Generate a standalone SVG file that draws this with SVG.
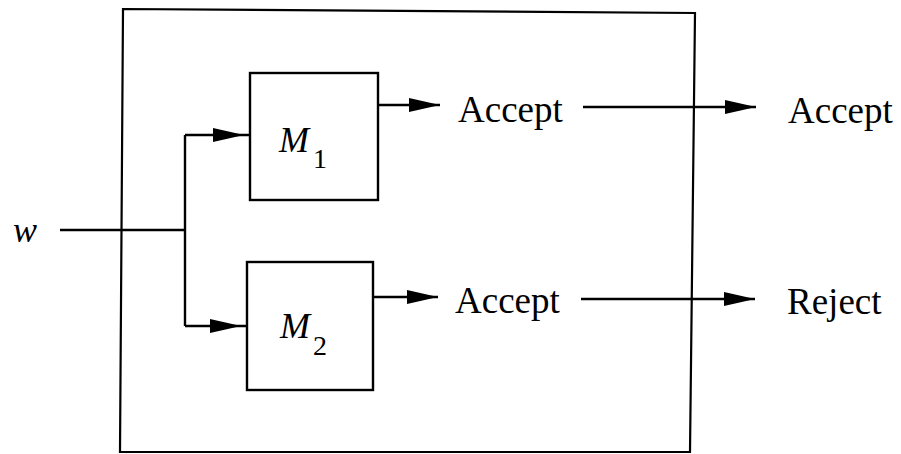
<svg xmlns="http://www.w3.org/2000/svg" xmlns:xlink="http://www.w3.org/1999/xlink" width="901" height="454" viewBox="0 0 901 454">
<style>
.ln{fill:none;stroke:#000;stroke-width:2.4}
.box{fill:#fff;stroke:#000;stroke-width:2.4}
.t{font-family:"Liberation Serif","Times New Roman",serif;font-size:37px;fill:#000}
.m{font-family:"Liberation Serif","Times New Roman",serif;font-style:italic;font-size:36px;fill:#000}
.s{font-family:"Liberation Serif","Times New Roman",serif;font-size:28px;fill:#000}
</style>
<defs>
<path id="ah" d="M0,0 L-31,-7 L-31,7 Z" fill="#000"/>
</defs>
<rect width="901" height="454" fill="#fff"/>
<g id="outer">
<polygon points="123,9 695,13 690,452 120,452" fill="none" stroke="#000" stroke-width="2.2"/>
</g>
<g id="connectors">
<path class="ln" d="M60,230 H185 M185,135 V326 M185,135 H250 M185,326 H247"/>
<use xlink:href="#ah" x="244" y="135"/>
<use xlink:href="#ah" x="241" y="326"/>
<path class="ln" d="M378,105 H440 M373,297 H438"/>
<use xlink:href="#ah" x="440" y="105"/>
<use xlink:href="#ah" x="438" y="297"/>
<path class="ln" d="M583,107 H756 M581,299 H755"/>
<use xlink:href="#ah" x="756" y="107"/>
<use xlink:href="#ah" x="755" y="299"/>
</g>
<g id="input">
<text class="m" x="13" y="242" font-size="36">w</text>
</g>
<g id="M1">
<rect class="box" x="250" y="73" width="128" height="127"/>
<text class="m" x="279" y="152">M</text>
<text class="s" x="313" y="168">1</text>
</g>
<g id="M2">
<rect class="box" x="247" y="262" width="126" height="128"/>
<text class="m" x="280" y="338">M</text>
<text class="s" x="313" y="355">2</text>
</g>
<g id="labels">
<text class="t" x="458" y="122">Accept</text>
<text class="t" x="788" y="123">Accept</text>
<text class="t" x="455" y="313">Accept</text>
<text class="t" x="787" y="314">Reject</text>
</g>
</svg>
